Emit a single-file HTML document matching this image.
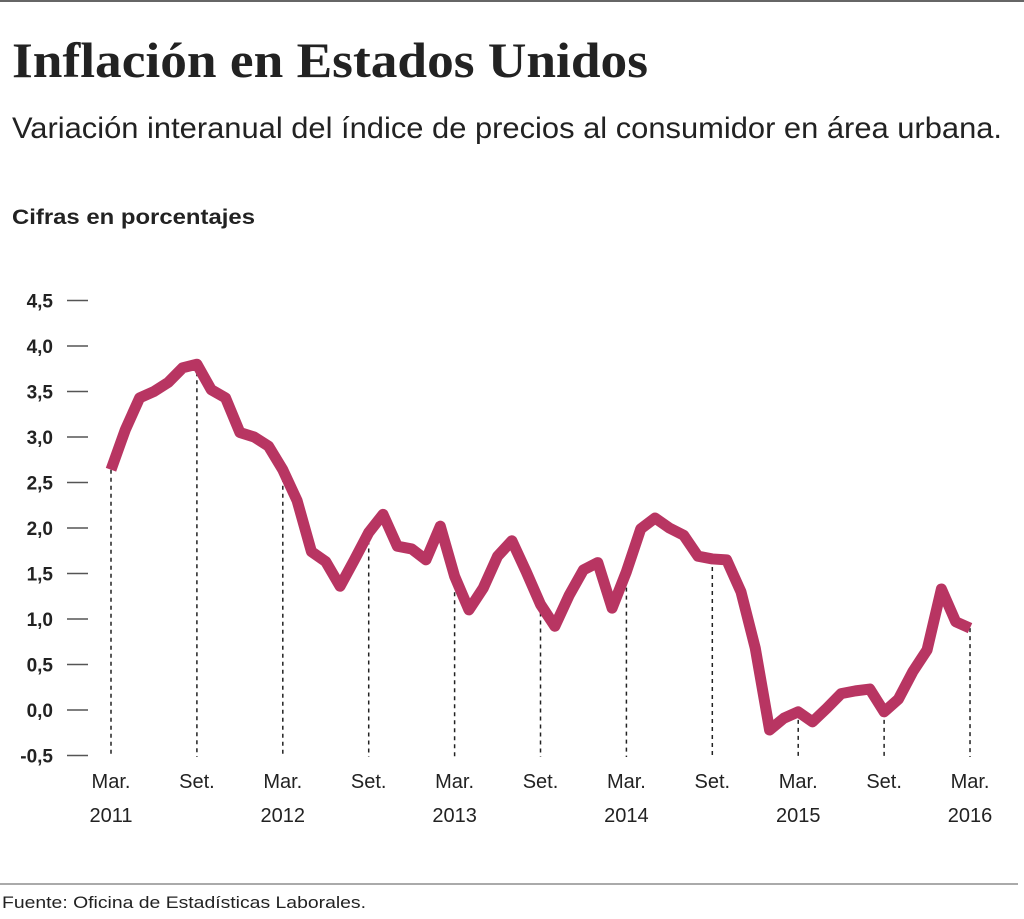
<!DOCTYPE html>
<html><head><meta charset="utf-8"><style>
body{margin:0;background:#fff;width:1024px;height:914px;overflow:hidden;font-family:"Liberation Sans",sans-serif;}
</style></head><body>
<svg width="1024" height="914">
<line x1="0" y1="1" x2="1024" y2="1" stroke="#333" stroke-width="1.5"/>
<text x="12" y="77" font-family="Liberation Serif,serif" font-weight="bold" font-size="50" fill="#222" textLength="636" lengthAdjust="spacingAndGlyphs">Inflación en Estados Unidos</text>
<text x="12" y="138" font-size="30" fill="#222" textLength="990" lengthAdjust="spacingAndGlyphs">Variación interanual del índice de precios al consumidor en área urbana.</text>
<text x="12" y="224" font-size="21" font-weight="bold" fill="#222" textLength="243" lengthAdjust="spacingAndGlyphs">Cifras en porcentajes</text>
<g id="yaxis"></g>
<g id="xaxis"></g>
<g id="plot"></g>
<line x1="0" y1="884" x2="1018" y2="884" stroke="#555" stroke-width="1"/>
<text x="2" y="908" font-size="17" fill="#222" textLength="364" lengthAdjust="spacingAndGlyphs">Fuente: Oficina de Estadísticas Laborales.</text>
</svg>
<script>
const yTicks=[4.5,4.0,3.5,3.0,2.5,2.0,1.5,1.0,0.5,0.0,-0.5];
const yTickLabels=["4,5","4,0","3,5","3,0","2,5","2,0","1,5","1,0","0,5","0,0","-0,5"];
const values=[2.64,3.08,3.43,3.5,3.6,3.76,3.8,3.52,3.43,3.05,3.0,2.9,2.64,2.3,1.74,1.63,1.36,1.65,1.95,2.15,1.8,1.77,1.65,2.02,1.47,1.1,1.34,1.69,1.86,1.52,1.16,0.92,1.26,1.54,1.62,1.12,1.52,1.99,2.11,2.0,1.92,1.69,1.66,1.65,1.3,0.68,-0.22,-0.09,-0.02,-0.13,0.02,0.18,0.21,0.23,-0.02,0.12,0.42,0.66,1.33,0.97,0.9];
const xTickMonths=[0,6,12,18,24,30,36,42,48,54,60];
const xTickLine1=["Mar.","Set.","Mar.","Set.","Mar.","Set.","Mar.","Set.","Mar.","Set.","Mar."];
const xTickLine2=["2011","","2012","","2013","","2014","","2015","","2016"];
const NS="http://www.w3.org/2000/svg";
const yS=v=>710-v*91;
const xS=i=>111+i*14.317;
function mk(t,a,p){const e=document.createElementNS(NS,t);for(const k in a)e.setAttribute(k,a[k]);p.appendChild(e);return e;}
const ya=document.getElementById('yaxis'),xa=document.getElementById('xaxis'),pl=document.getElementById('plot');
yTicks.forEach((v,i)=>{
 const l=mk('line',{x1:67,x2:88,y1:yS(v),y2:yS(v),stroke:'#555','stroke-width':1.5},ya);
 
 
 const t=mk('text',{x:53,y:yS(v)+7,'text-anchor':'end','font-size':19,'font-weight':'bold',fill:'#222'},ya);
 t.textContent=yTickLabels[i];
 
 
});
xTickMonths.forEach((m,i)=>{
 const x=xS(m);
 const d=mk('line',{x1:x,x2:x,y1:yS(values[m]),y2:757,stroke:'#222','stroke-width':1.5,'stroke-dasharray':'4,4'},xa);
 
 
 const t=mk('text',{x:x,y:788,'text-anchor':'middle','font-size':20,fill:'#222'},xa);
 t.textContent=xTickLine1[i];
 
 
 if(xTickLine2[i]){const t2=mk('text',{x:x,y:822,'text-anchor':'middle','font-size':20,fill:'#222'},xa);
 t2.textContent=xTickLine2[i];
 
 }
});
const p=mk('polyline',{points:values.map((v,i)=>xS(i)+','+yS(v)).join(' '),fill:'none',stroke:'#b83562','stroke-width':11,'stroke-linejoin':'round'},pl);


</script>
</body></html>
